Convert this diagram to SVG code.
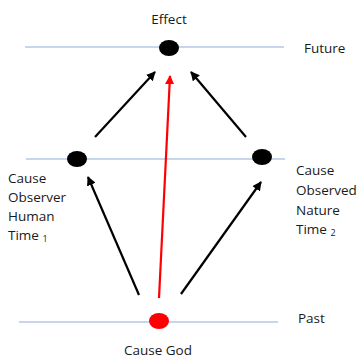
<svg xmlns="http://www.w3.org/2000/svg" width="359" height="360" viewBox="0 0 359 360">
<defs>
<marker id="ah" viewBox="0 0 10 10" refX="9" refY="5" markerWidth="4.2" markerHeight="4.2" orient="auto" markerUnits="strokeWidth"><path d="M0,0 L10,5 L0,10 z" fill="#000"/></marker>
<marker id="ahr" viewBox="0 0 10 10" refX="9" refY="5" markerWidth="4.2" markerHeight="4.2" orient="auto" markerUnits="strokeWidth"><path d="M0,0 L10,5 L0,10 z" fill="#f00"/></marker>
<style>
text{font-family:"Open Sans","Liberation Sans",sans-serif;font-size:13.5px;fill:#1a1a1a}
.tl{stroke:#b4c7e7;stroke-width:1.3}
.ar{stroke:#000;stroke-width:2.2;fill:none;marker-end:url(#ah)}
.arr{stroke:#f00;stroke-width:2.2;fill:none;marker-end:url(#ahr)}
.sub{font-size:9px}
</style>
</defs>
<rect width="359" height="360" fill="#fff"/>
<g id="timelines">
<line class="tl" x1="25" y1="47" x2="284" y2="47"/>
<line class="tl" x1="26" y1="159" x2="285" y2="159"/>
<line class="tl" x1="19" y1="322" x2="278" y2="322"/>
</g>
<g id="connectors">
<line class="ar" x1="95" y1="137" x2="155" y2="72"/>
<line class="ar" x1="246" y1="137" x2="191" y2="72"/>
<line class="arr" x1="159" y1="298" x2="170" y2="76"/>
<line class="ar" x1="139" y1="295" x2="88" y2="177"/>
<line class="ar" x1="181" y1="294" x2="261" y2="182"/>
</g>
<g id="effect"><ellipse cx="169" cy="48" rx="10" ry="8" fill="#000"/><text x="169" y="24" text-anchor="middle">Effect</text></g>
<g id="future"><text x="304" y="53">Future</text></g>
<g id="cause-observer"><ellipse cx="77" cy="159" rx="10" ry="8" fill="#000"/>
<text x="8" y="183">Cause</text><text x="8" y="202">Observer</text><text x="8" y="221">Human</text><text x="8" y="240">Time <tspan class="sub" dy="2">1</tspan></text></g>
<g id="cause-observed"><ellipse cx="262" cy="157" rx="10" ry="8" fill="#000"/>
<text x="296" y="175">Cause</text><text x="296" y="195">Observed</text><text x="296" y="215">Nature</text><text x="296" y="234">Time <tspan class="sub" dy="2">2</tspan></text></g>
<g id="cause-god"><ellipse cx="159" cy="321" rx="10" ry="8" fill="#f00"/><text x="158" y="355" text-anchor="middle">Cause God</text></g>
<g id="past"><text x="298" y="323">Past</text></g>
</svg>
